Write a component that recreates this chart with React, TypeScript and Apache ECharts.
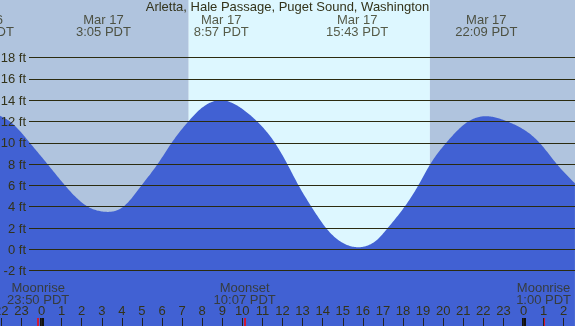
import React, { useEffect, useRef } from "react";
import * as echarts from "echarts";

// Tide curve (hours from Mar 17 00:00 PDT, feet)
const tideHours = [-2.066, -1.57, -0.58, 0.3, 1.17, 2.31, 3.083, 4.07, 4.98, 5.78, 6.48, 7.31, 7.81, 8.95, 10.13, 10.74, 11.62, 12.24, 12.8, 13.44, 14.17, 14.69, 15.717, 16.77, 17.24, 18.08, 18.76, 19.36, 20.15, 21.25, 22.15, 23.2, 24.8, 25.66, 26.56];
const tideFeet = [12.55, 12.0, 10.0, 8.0, 6.0, 4.0, 3.54, 4.0, 6.0, 8.0, 10.0, 12.0, 13.0, 14.0, 13.0, 12.0, 10.0, 8.0, 6.0, 4.0, 2.0, 1.0, 0.2, 1.0, 2.0, 4.0, 6.0, 8.0, 10.0, 12.0, 12.5, 12.0, 10.0, 8.0, 6.2];

// High / low tide labels
const extremeHours = [-2.92, 3.083, 8.95, 15.717, 22.15];
const extremeLabels = ["Mar 16\n21:05 PDT", "Mar 17\n3:05 PDT", "Mar 17\n8:57 PDT", "Mar 17\n15:43 PDT", "Mar 17\n22:09 PDT"];

// Moon events
const moonHours = [-0.167, 10.117, 25.0];
const moonLabels = ["Moonrise\n23:50 PDT", "Moonset\n10:07 PDT", "Moonrise\n1:00 PDT"];

// Sun
const sunriseHour = 7.33;
const sunsetHour = 19.34;

// Midnights
const midnightHours = [0, 24];

// Height grid lines (ft)
const heightTicks = [-2, 0, 2, 4, 6, 8, 10, 12, 14, 16, 18];

const TITLE = "Arletta, Hale Passage, Puget Sound, Washington";

const X_MIN = -3;
const X_MAX = 27;
const Y_MIN = -7.2;
const Y_MAX = 23.41;
const GRID_LEFT = -18.75;
const GRID_RIGHT = -8.75;
const TEXT = "#33331a";
const WATER = "#4161d3";
const FONT = "Liberation Sans, Arial, sans-serif";

// natural cubic spline second derivatives (used only to draw a smooth curve through the read points)
function splineM(xs: number[], ys: number[]): number[] {
  const n = xs.length;
  const M = new Array(n).fill(0);
  if (n < 3) return M;
  const a: number[] = [], b: number[] = [], c: number[] = [], d: number[] = [];
  for (let i = 1; i < n - 1; i++) {
    const h0 = xs[i] - xs[i - 1];
    const h1 = xs[i + 1] - xs[i];
    a.push(h0);
    b.push(2 * (h0 + h1));
    c.push(h1);
    d.push(6 * ((ys[i + 1] - ys[i]) / h1 - (ys[i] - ys[i - 1]) / h0));
  }
  const m = b.length;
  for (let i = 1; i < m; i++) {
    const w = a[i] / b[i - 1];
    b[i] -= w * c[i - 1];
    d[i] -= w * d[i - 1];
  }
  const sol = new Array(m).fill(0);
  sol[m - 1] = d[m - 1] / b[m - 1];
  for (let i = m - 2; i >= 0; i--) sol[i] = (d[i] - c[i] * sol[i + 1]) / b[i];
  for (let i = 0; i < m; i++) M[i + 1] = sol[i];
  return M;
}

function splineAt(xs: number[], ys: number[], M: number[], t: number): number {
  let i = 0;
  while (i < xs.length - 2 && t > xs[i + 1]) i++;
  const h = xs[i + 1] - xs[i];
  const A = xs[i + 1] - t;
  const B = t - xs[i];
  return (
    (M[i] * A * A * A) / (6 * h) +
    (M[i + 1] * B * B * B) / (6 * h) +
    (ys[i] / h - (M[i] * h) / 6) * A +
    (ys[i + 1] / h - (M[i + 1] * h) / 6) * B
  );
}

export default function App() {
  const ref = useRef<HTMLDivElement>(null);
  useEffect(() => {
    if (!ref.current) return;
    const chart = echarts.init(ref.current, undefined, { renderer: "svg" });
    const xBase = { type: "value" as const, min: X_MIN, max: X_MAX };
    const gridBase = { left: GRID_LEFT, right: GRID_RIGHT, outerBoundsMode: "none", containLabel: false };
    const M = splineM(tideHours, tideFeet);
    const option: any = {
      animation: false,
      textStyle: { fontFamily: FONT },
      title: {
        text: TITLE,
        left: "center",
        top: 0,
        padding: 0,
        textStyle: { fontSize: 13, fontWeight: "normal", color: TEXT, fontFamily: FONT },
      },
      grid: [
        { ...gridBase, top: 0, bottom: 0 },
        { ...gridBase, top: 0, height: 51 },
        { ...gridBase, top: 280, height: 26 },
        { ...gridBase, top: 318, height: 8 },
      ],
      xAxis: [
        { ...xBase, gridIndex: 0, show: false },
        { ...xBase, gridIndex: 1, show: false },
        { ...xBase, gridIndex: 2, show: false },
        {
          ...xBase,
          gridIndex: 3,
          interval: 1,
          z: 20,
          axisLine: { show: false },
          splitLine: { show: false },
          axisTick: { show: true, inside: true, length: 8, lineStyle: { color: "#222", width: 1 } },
          axisLabel: {
            show: true,
            inside: true,
            margin: 9,
            interval: 0,
            hideOverlap: false,
            showMinLabel: true,
            showMaxLabel: true,
            fontSize: 13,
            color: TEXT,
            fontFamily: FONT,
            formatter: (v: number) => String(((Math.round(v) % 24) + 24) % 24),
          },
        },
      ],
      yAxis: [
        { type: "value", gridIndex: 0, min: Y_MIN, max: Y_MAX, show: false },
        { type: "value", gridIndex: 1, min: 0, max: 1, show: false },
        { type: "value", gridIndex: 2, min: 0, max: 1, show: false },
        { type: "value", gridIndex: 3, min: 0, max: 1, show: false },
      ],
      series: [
        {
          type: "line",
          xAxisIndex: 0,
          yAxisIndex: 0,
          data: [],
          z: 1,
          silent: true,
          markArea: {
            silent: true,
            data: [
              [{ xAxis: X_MIN, itemStyle: { color: "#b0c4de" } }, { xAxis: sunriseHour }],
              [{ xAxis: sunriseHour, itemStyle: { color: "#ddf7ff" } }, { xAxis: sunsetHour }],
              [{ xAxis: sunsetHour, itemStyle: { color: "#b0c4de" } }, { xAxis: X_MAX }],
            ],
          },
        },
        {
          type: "custom",
          xAxisIndex: 0,
          yAxisIndex: 0,
          z: 2,
          silent: true,
          data: tideHours.map((h, i) => [h, tideFeet[i]]),
          renderItem: (params: any, api: any) => {
            if (params.dataIndex !== 0) return null;
            const x0 = tideHours[0];
            const x1 = tideHours[tideHours.length - 1];
            const pts: number[][] = [];
            const steps = 600;
            for (let k = 0; k <= steps; k++) {
              const t = x0 + ((x1 - x0) * k) / steps;
              pts.push(api.coord([t, splineAt(tideHours, tideFeet, M, t)]));
            }
            pts.push(api.coord([x1, Y_MIN]));
            pts.push(api.coord([x0, Y_MIN]));
            return {
              type: "polygon",
              shape: { points: pts },
              style: { fill: WATER, stroke: "none" },
            };
          },
        },
        {
          type: "line",
          xAxisIndex: 0,
          yAxisIndex: 0,
          data: [],
          z: 3,
          silent: true,
          markLine: {
            silent: true,
            symbol: "none",
            lineStyle: { color: "#2b2b10", width: 1, type: "solid" },
            label: {
              show: true,
              position: "start",
              distance: 3,
              fontSize: 13,
              color: TEXT,
              fontFamily: FONT,
              formatter: (p: any) => `${p.data.tick} ft`,
            },
            data: heightTicks.map((t) => [
              { coord: [-0.622, t], tick: t },
              { coord: [X_MAX, t] },
            ]),
          },
        },
        {
          type: "scatter",
          xAxisIndex: 1,
          yAxisIndex: 1,
          symbolSize: 0,
          silent: true,
          z: 4,
          label: {
            show: true,
            position: "inside",
            fontSize: 13,
            lineHeight: 12.5,
            color: TEXT,
            fontFamily: FONT,
            formatter: (p: any) => extremeLabels[p.dataIndex],
          },
          data: extremeHours.map((h) => [h, 0.5]),
        },
        {
          type: "scatter",
          xAxisIndex: 2,
          yAxisIndex: 2,
          symbolSize: 0,
          silent: true,
          z: 4,
          label: {
            show: true,
            position: "inside",
            fontSize: 13,
            lineHeight: 12,
            color: TEXT,
            fontFamily: FONT,
            formatter: (p: any) => moonLabels[p.dataIndex],
          },
          data: moonHours.map((h) => [h, 0.5]),
        },
        {
          type: "line",
          xAxisIndex: 3,
          yAxisIndex: 3,
          data: [],
          z: 25,
          silent: true,
          markLine: {
            silent: true,
            symbol: "none",
            label: { show: false },
            data: [
              ...midnightHours.map((h) => ({ xAxis: h, lineStyle: { color: "#111", width: 4, type: "solid" } })),
              ...moonHours.map((h) => ({ xAxis: h, lineStyle: { color: "#ff0000", width: 1.5, type: "solid" } })),
            ],
          },
        },
      ],
    };
    chart.setOption(option);
    return () => chart.dispose();
  }, []);
  return (
    <div
      ref={ref}
      style={{ position: "fixed", left: 0, top: 0, width: 575, height: 326 }}
    />
  );
}
